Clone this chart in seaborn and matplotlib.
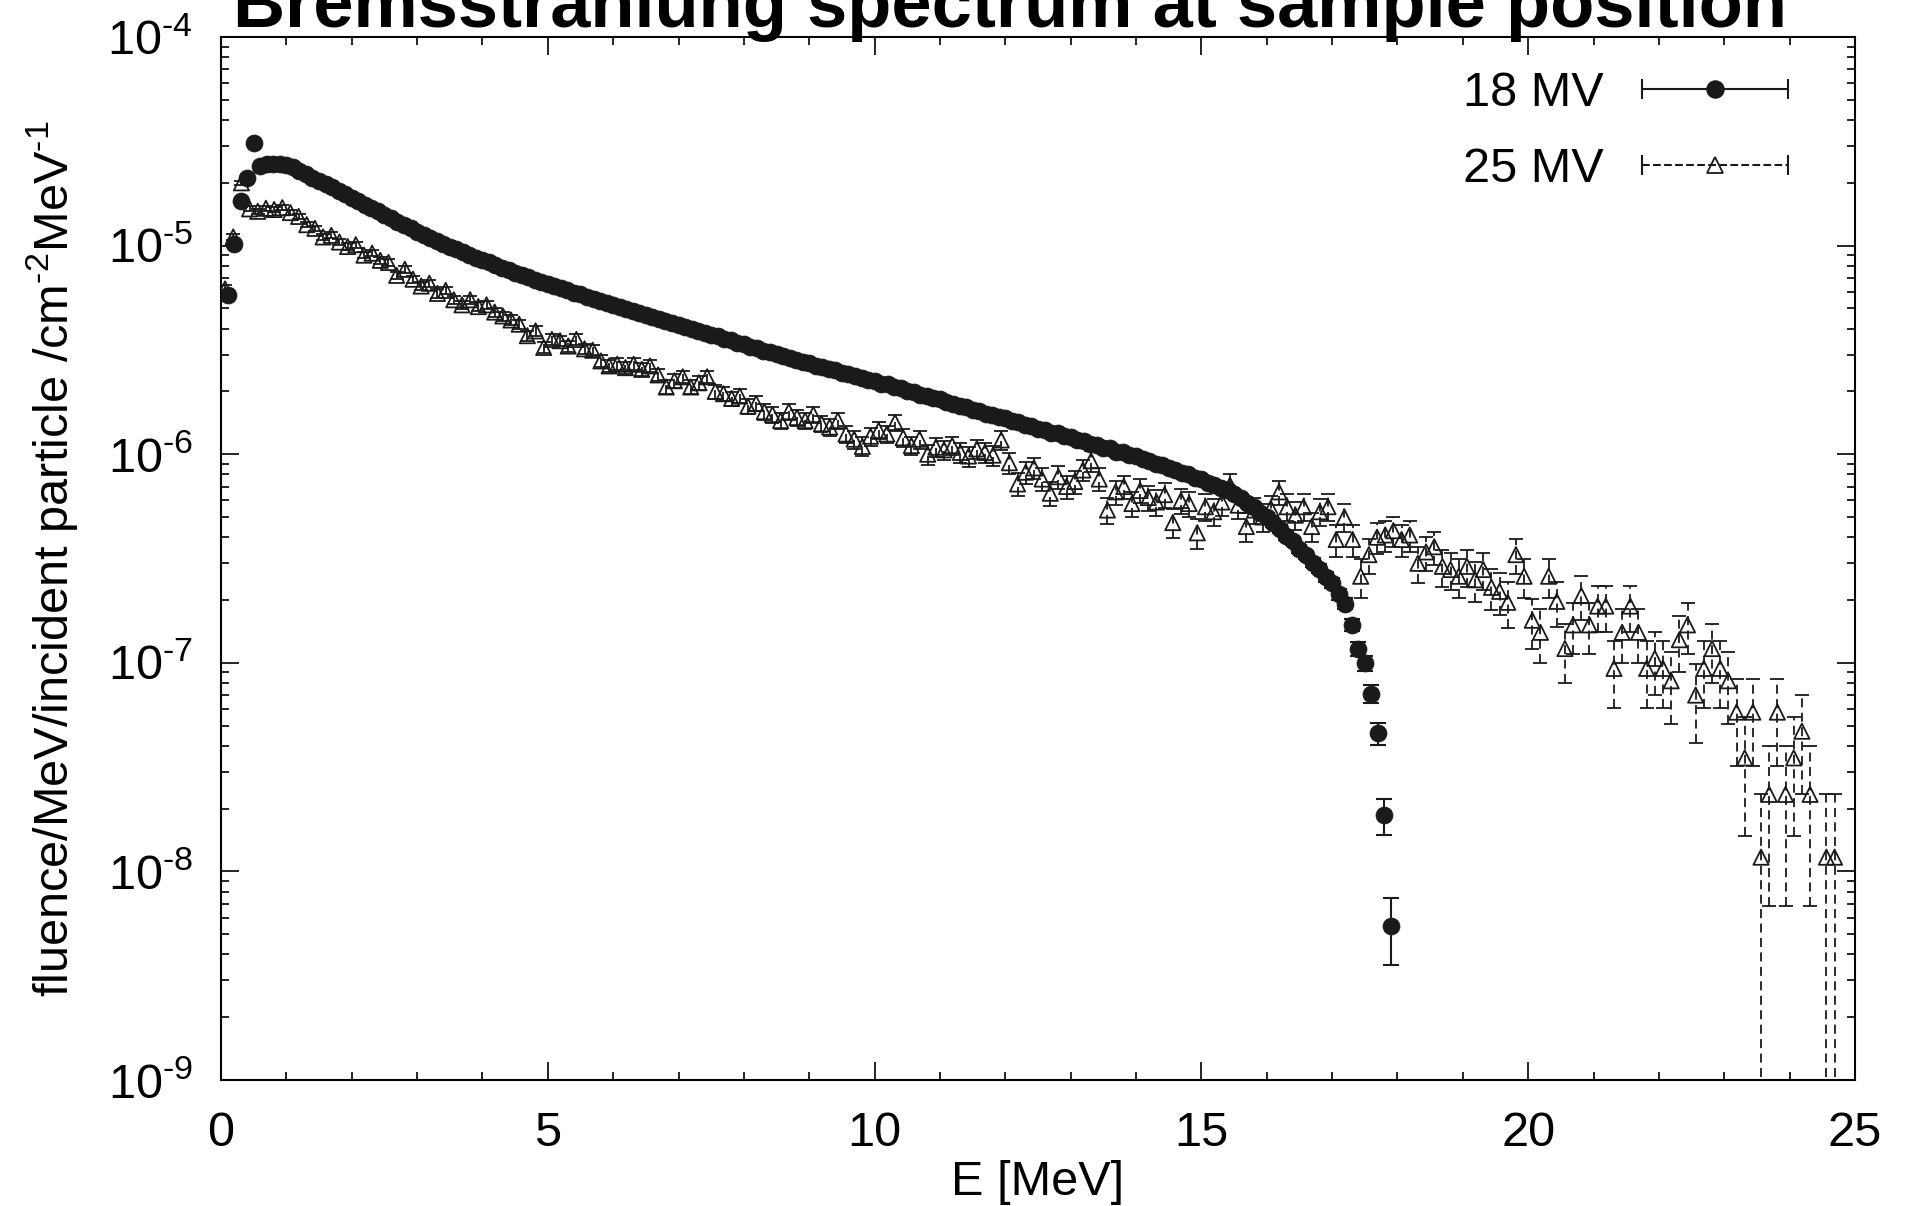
import numpy as np
import pandas as pd
import matplotlib
matplotlib.use("Agg")
import matplotlib.pyplot as plt
from matplotlib.lines import Line2D
from matplotlib.legend_handler import HandlerBase
from matplotlib.ticker import MultipleLocator, LogLocator, NullFormatter, FuncFormatter
import seaborn as sns

# energy bins (MeV)
e18 = np.round(np.arange(1, 180) * 0.1, 3)          # 0.1 ... 17.9
e25 = np.round(0.0625 + np.arange(198) * 0.125, 4)  # 0.0625 ... 24.6875

# fluence per MeV per incident particle, in units of 1e-7 /cm^2/MeV
flu18 = [58, 102, 163, 212, 310, 240, 246, 247, 246, 243,
         237, 228, 221, 212, 204, 197, 190, 183, 176, 170,
         163, 157, 151, 146, 140, 135, 130, 125, 121, 116,
         112, 109, 105, 102, 99.0, 96.0, 93.0, 90.5, 87.5, 85.0,
         83.0, 80.5, 78.0, 76.5, 74.0, 72.5, 70.5, 68.5, 67.0, 65.5,
         63.8, 62.5, 61.0, 59.5, 58.3, 57.0, 55.5, 54.4, 53.0, 52.0,
         50.8, 49.8, 48.5, 47.6, 46.4, 45.6, 44.4, 43.7, 42.5, 41.8,
         40.7, 40.0, 39.0, 38.3, 37.3, 36.7, 35.7, 35.1, 34.2, 33.6,
         32.7, 32.2, 31.4, 30.9, 30.1, 29.6, 28.8, 28.4, 27.7, 27.3,
         26.6, 26.2, 25.5, 25.2, 24.5, 24.3, 23.6, 23.3, 22.7, 22.5,
         21.8, 21.6, 20.9, 20.7, 20.1, 19.8, 19.2, 19.0, 18.5, 18.3,
         17.7, 17.5, 17.0, 16.8, 16.3, 16.1, 15.6, 15.5, 15.0, 14.9,
         14.4, 14.3, 13.8, 13.7, 13.2, 13.1, 12.7, 12.6, 12.2, 12.1,
         11.7, 11.6, 11.2, 11.1, 10.7, 10.7, 10.3, 10.2, 9.90, 9.80,
         9.45, 9.30, 9.00, 8.85, 8.55, 8.40, 8.12, 8.00, 7.72, 7.60,
         7.30, 7.14, 6.85, 6.70, 6.43, 6.15, 5.82, 5.57, 5.25, 5.02,
         4.66, 4.38, 4.05, 3.82, 3.53, 3.30, 3.02, 2.83, 2.58, 2.42,
         2.13, 1.92, 1.52, 1.17, 1.00, 0.71, 0.46, 0.186, 0.055]

flu25 = [62, 110, 200, 150, 146, 151, 149, 152,
         144, 138, 126, 121, 110, 112, 104, 99,
         101, 90, 92, 85, 83, 72, 77, 69,
         64, 66, 59, 61, 55, 52, 55, 51,
         52, 48, 46, 44, 42, 37, 39, 32.5,
         35.5, 35, 33, 35.5, 32, 31.5, 28, 26.5,
         27, 26, 27, 25.5, 26.5, 24, 21, 22.5,
         23.5, 21, 22, 23.5, 20, 19.5, 18.5, 19,
         17, 17.5, 16, 15.5, 14.5, 16, 15, 14.5,
         15.5, 14, 13.5, 14.5, 12.5, 11.8, 10.9, 12.2,
         13, 12.5, 14.2, 12, 11, 11.8, 10, 10.8,
         10.5, 11, 10.2, 9.8, 10.6, 10.2, 9.9, 11.7,
         9.1, 7.2, 8.2, 8.6, 7.6, 6.5, 7.8, 7.0,
         7.4, 8.4, 9.3, 7.6, 5.4, 6.6, 7.0, 5.8,
         6.7, 6.2, 5.9, 6.4, 4.7, 6.0, 5.8, 4.2,
         5.6, 5.3, 5.9, 7.1, 5.7, 4.5, 5.4, 5.0,
         5.5, 6.6, 5.6, 5.1, 5.6, 4.5, 5.3, 5.6,
         3.9, 5.0, 3.9, 2.6, 3.3, 4.0, 4.1, 4.3,
         3.9, 4.1, 3.0, 3.4, 3.6, 2.9, 2.8, 2.6,
         2.9, 2.5, 2.8, 2.3, 2.2, 1.95, 3.3, 2.6,
         1.6, 1.4, 2.6, 1.97, 1.17, 1.52, 2.1, 1.52,
         1.87, 1.87, 0.94, 1.40, 1.87, 1.40, 0.94, 1.05,
         0.94, 0.82, 1.29, 1.52, 0.70, 0.94, 1.17, 0.94,
         0.82, 0.58, 0.35, 0.58, 0.117, 0.234, 0.58, 0.234,
         0.35, 0.47, 0.234, np.nan, 0.117, 0.117]

# fluence carried by one scored particle (same 1e-7 units) -> Poisson errors
unit18 = 0.0069
unit25 = 0.117

df18 = pd.DataFrame({"E": e18, "flu": np.array(flu18) * 1e-7})
df18["err"] = np.sqrt(df18["flu"] * unit18 * 1e-7)
df25 = pd.DataFrame({"E": e25, "flu": np.array(flu25) * 1e-7})
df25["err"] = np.sqrt(df25["flu"] * unit25 * 1e-7)

sns.set_theme(style="ticks", rc={"axes.edgecolor": "black", "xtick.color": "black",
                                 "ytick.color": "black", "axes.labelcolor": "black",
                                 "text.color": "black", "axes.linewidth": 1.5})
plt.rcParams["font.family"] = ["Liberation Sans", "DejaVu Sans"]
plt.rcParams["mathtext.fontset"] = "custom"
plt.rcParams["mathtext.rm"] = "Liberation Sans"
plt.rcParams["mathtext.it"] = "Liberation Sans:italic"
plt.rcParams["mathtext.bf"] = "Liberation Sans:bold"

fig = plt.figure(figsize=(19.1, 12.06), dpi=100)
ax = fig.add_axes([0.1157, 0.1045, 0.8555, 0.8648])
ax.set_yscale("log")

# 18 MV: solid error bars, filled circles
ax.errorbar(df18["E"], df18["flu"], yerr=df18["err"], fmt="none", ecolor="k",
            elinewidth=1.5, capsize=6, capthick=1.5, zorder=2)
sns.scatterplot(data=df18, x="E", y="flu", ax=ax, marker="o", s=150,
                color="k", edgecolor="k", linewidth=0.5, zorder=3, legend=False)

# 25 MV: dashed error bars, open triangles
eb = ax.errorbar(df25["E"], df25["flu"], yerr=df25["err"], fmt="none", ecolor="k",
                 elinewidth=1.3, capsize=5, capthick=1.3, zorder=4)
eb.lines[2][0].set_linestyle((0, (5, 3)))
sns.scatterplot(data=df25, x="E", y="flu", ax=ax, marker="^", s=120,
                facecolors="none", edgecolor="k", linewidth=1.3, zorder=5, legend=False)

ax.set_xlim(0, 25)
ax.set_ylim(1e-9, 1e-4)
ax.xaxis.set_major_locator(MultipleLocator(5))
ax.xaxis.set_minor_locator(MultipleLocator(1))
ax.yaxis.set_major_locator(LogLocator(base=10, numticks=10))
ax.yaxis.set_minor_locator(LogLocator(base=10, subs=np.arange(2, 10), numticks=10))
ax.yaxis.set_minor_formatter(NullFormatter())
# gnuplot writes the exponent with a plain hyphen
ax.yaxis.set_major_formatter(FuncFormatter(
    lambda v, pos: r"$10^{\text{-}%d}$" % round(-np.log10(v))))
ax.tick_params(which="both", direction="in", top=True, right=True, width=1.2)
ax.tick_params(which="major", length=13, labelsize=35)
ax.tick_params(axis="x", which="major", pad=22)
ax.tick_params(axis="y", which="major", pad=20)
ax.tick_params(which="minor", length=6)

ax.set_xlabel("E [MeV]", fontsize=35)
ax.set_ylabel(r"fluence/MeV/incident particle /cm$^{\text{-}2}$MeV$^{\text{-}1}$", fontsize=35)
ax.xaxis.set_label_coords(0.5, -0.0765)
ax.yaxis.set_label_coords(-0.0863, 0.5)

fig.text(0.5288, 1 - 27 / 1206, "Bremsstrahlung spectrum at sample position",
         ha="center", va="baseline", fontsize=52, fontweight="bold")


class ErrorKey(HandlerBase):
    # gnuplot-style key: horizontal error bar with caps and the point in the middle
    def create_artists(self, legend, orig_handle, xdescent, ydescent, width, height, fontsize, trans):
        y = height / 2 - ydescent
        x0, x1 = -xdescent, width - xdescent
        bar = Line2D([x0, x1], [y, y], color="k", lw=1.5, ls=orig_handle.get_linestyle())
        caps = Line2D([x0, x1], [y, y], ls="none", marker="|", ms=14, mew=1.5, color="k")
        mark = Line2D([(x0 + x1) / 2], [y], ls="none", marker=orig_handle.get_marker(),
                      ms=orig_handle.get_markersize(), mfc=orig_handle.get_markerfacecolor(),
                      mec="k", mew=1.3)
        for a in (bar, caps, mark):
            a.set_transform(trans)
        return [bar, caps, mark]


h18 = Line2D([], [], ls="-", marker="o", ms=12, mfc="k")
h25 = Line2D([], [], ls=(0, (5, 3)), marker="^", ms=11, mfc="none")
ax.legend([h18, h25], ["18 MV", "25 MV"], handler_map={Line2D: ErrorKey()},
          loc="upper right", bbox_to_anchor=(0.959, 0.967), frameon=False,
          markerfirst=False, handlelength=3.0, handletextpad=0.8, borderpad=0,
          borderaxespad=0, labelspacing=0.63, fontsize=35)

fig.savefig("out.png", dpi=100)
